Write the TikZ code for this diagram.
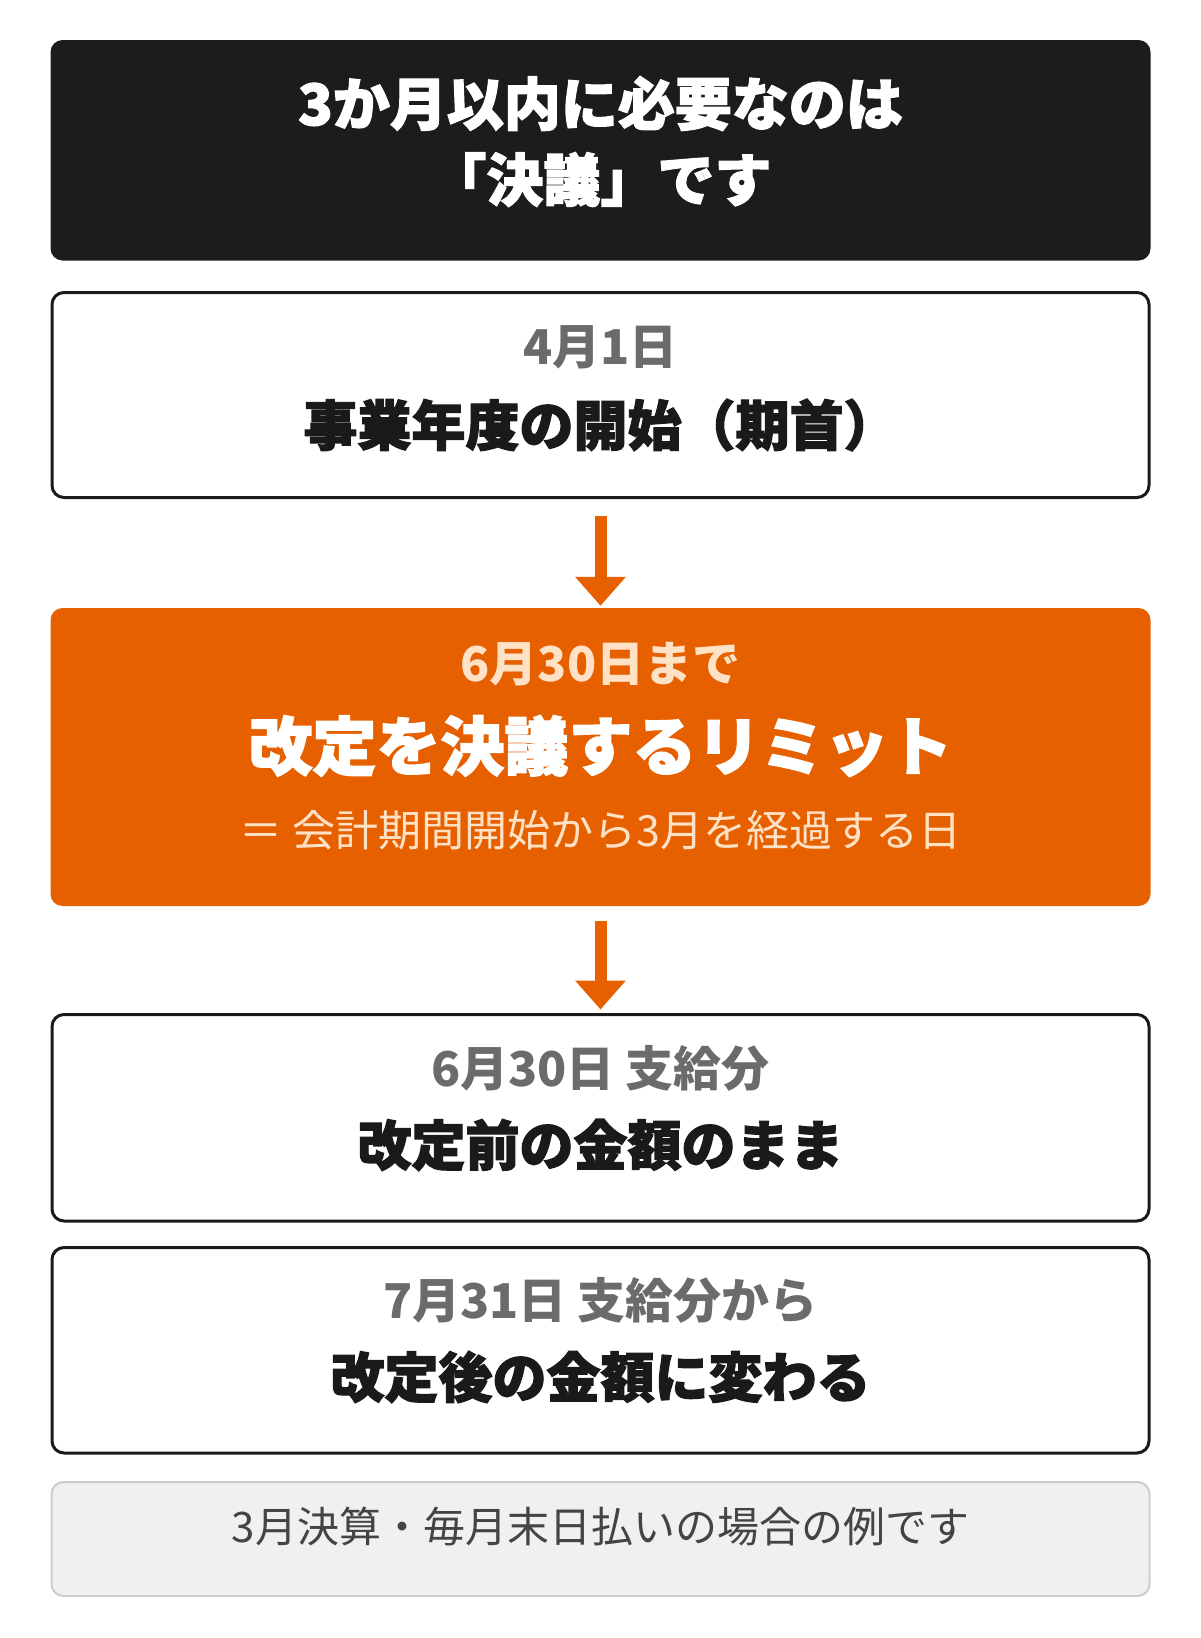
\documentclass[tikz,border=0pt]{standalone}
\usepackage{fontspec}
\setmainfont{Noto Sans CJK JP}
\newfontfamily\jpheavy{Noto Sans CJK JP}[BoldFeatures={FakeBold=2.2}]
\usetikzlibrary{arrows.meta}
\definecolor{boxdark}{HTML}{1C1C1C}
\definecolor{accent}{HTML}{E66000}
\definecolor{cream}{HTML}{FFE2C6}
\definecolor{subgray}{HTML}{6B6B6B}
\definecolor{inkblack}{HTML}{1A1A1A}
\definecolor{footfill}{HTML}{F0F0F0}
\definecolor{footline}{HTML}{CCCCCC}
\definecolor{foottext}{HTML}{444444}
\tikzset{
  panel/.style={rectangle, rounded corners=12pt, minimum width=1097pt, line width=3pt, draw=inkblack, fill=white, inner sep=0pt},
  solidpanel/.style={rectangle, rounded corners=12pt, minimum width=1100pt, inner sep=0pt, draw=none},
  notepanel/.style={rectangle, rounded corners=12pt, minimum width=1098pt, line width=2pt, draw=footline, fill=footfill, inner sep=0pt},
  sublabel/.style={inner sep=0pt, font=\bfseries\fontsize{48}{52}\selectfont, text=subgray},
  mainlabel/.style={inner sep=0pt, font=\jpheavy\bfseries\fontsize{54}{60}\selectfont, text=inkblack},
  flowarrow/.style={draw=accent, line width=12pt, -{Triangle[width=49pt,length=29pt]}}
}
\begin{document}
\begin{tikzpicture}[x=1pt,y=-1pt]
\useasboundingbox (0,0) rectangle (1200,1638);
% boxes
\node[solidpanel, fill=boxdark, minimum height=220.5pt] (title) at (600.5,150.25) {};
\node[panel, minimum height=205pt] (start) at (600.5,395) {};
\node[solidpanel, fill=accent, minimum height=298pt] (limit) at (600.5,757) {};
\node[panel, minimum height=206.5pt] (before) at (600.5,1117.75) {};
\node[panel, minimum height=205.5pt] (after) at (600.5,1350.25) {};
\node[notepanel, minimum height=114pt] (note) at (600.5,1539) {};
% texts
\node[inner sep=0pt, align=center, text=white, font=\jpheavy\bfseries\fontsize{57}{76}\selectfont] (titletext) at (600.5,141.5) {3か月以内に必要なのは\\「決議」です};
\node[sublabel] (starttop) at (600.5,347) {4月1日};
\node[mainlabel] (startmain) at (600.5,425) {事業年度の開始（期首）};
\node[inner sep=0pt, text=cream, font=\bfseries\fontsize{48}{52}\selectfont] (limittop) at (600.5,664) {6月30日まで};
\node[inner sep=0pt, text=white, font=\jpheavy\bfseries\fontsize{64}{70}\selectfont] (limitmain) at (600.5,746) {改定を決議するリミット};
\node[inner sep=0pt, text=cream, font=\fontsize{43}{50}\selectfont] (limitnote) at (600.5,830) {＝ 会計期間開始から3月を経過する日};
\node[sublabel] (beforetop) at (600.5,1068) {6月30日 支給分};
\node[mainlabel] (beforemain) at (600.5,1145) {改定前の金額のまま};
\node[sublabel] (aftertop) at (600.5,1300) {7月31日 支給分から};
\node[mainlabel] (aftermain) at (600.5,1377) {改定後の金額に変わる};
\node[inner sep=0pt, text=foottext, font=\fontsize{42}{48}\selectfont] (notetext) at (600.5,1526) {3月決算・毎月末日払いの場合の例です};
% arrows
\draw[flowarrow] ([yshift=-17pt]start.south) -- ([yshift=2pt]limit.north);
\draw[flowarrow] ([yshift=-14.5pt]limit.south) -- ([yshift=3.5pt]before.north);
\end{tikzpicture}
\end{document}
